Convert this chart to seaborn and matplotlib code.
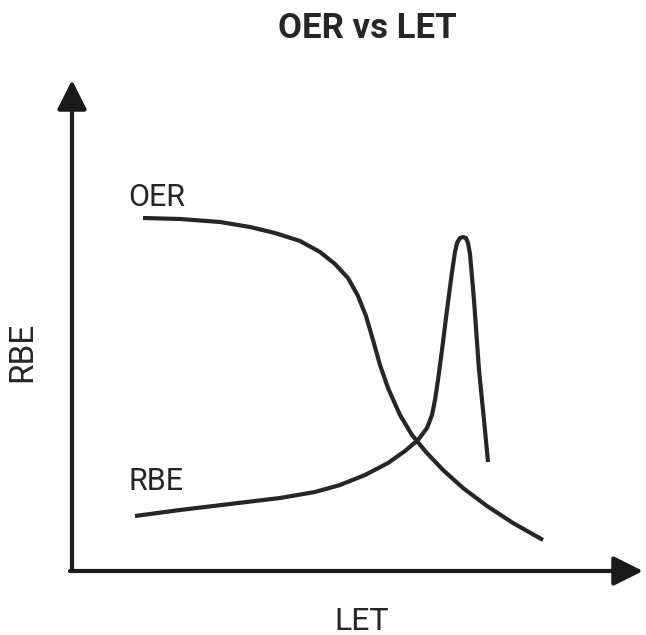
import matplotlib
matplotlib.use("Agg")
import matplotlib.pyplot as plt
import numpy as np
import pandas as pd
import seaborn as sns

# curve traces (pixel space, y grows downward)
oer_x = [143, 180, 220, 250, 275, 300, 320, 335, 348, 358, 366, 373, 380, 388,
         400, 412, 426, 443, 463, 487, 513, 543]
oer_y = [218, 219, 222, 227, 233, 241, 252, 264, 278, 296, 316, 340, 365, 388,
         415, 435, 452, 470, 488, 506, 523, 540]

rbe_x = [135, 180, 230, 280, 315, 340, 365, 388, 405, 418, 427, 432, 435, 438,
         442, 447, 452, 455, 457, 460, 463, 466, 468, 470, 474, 479, 484, 488]
rbe_y = [516, 510, 504, 498, 492, 485, 475, 463, 451, 440, 428, 415, 400, 380,
         350, 310, 272, 252, 243, 238, 237, 238, 243, 254, 300, 370, 420, 462]

title = "OER vs LET"
x_label = "LET"
y_label = "RBE"

sns.set_style("white")
plt.rcParams["font.family"] = ["Roboto", "DejaVu Sans"]

ink = "#262626"

fig = plt.figure(figsize=(6.46, 6.35), dpi=100)
ax = fig.add_axes([0, 0, 1, 1])

oer = pd.DataFrame({"x": oer_x, "y": oer_y})
rbe = pd.DataFrame({"x": rbe_x, "y": rbe_y})
sns.lineplot(data=oer, x="x", y="y", sort=False, ax=ax, color=ink, lw=3,
             solid_capstyle="butt", solid_joinstyle="round")
sns.lineplot(data=rbe, x="x", y="y", sort=False, ax=ax, color=ink, lw=3,
             solid_capstyle="butt", solid_joinstyle="round")

ax.set_xlim(0, 646)
ax.set_ylim(635, 0)
ax.axis("off")

# axis arrows
arrow = dict(arrowstyle="-|>,head_length=0.9,head_width=0.45", lw=3,
             color="#1a1a1a", shrinkA=0, shrinkB=0, mutation_scale=20)
ax.annotate("", xy=(72, 80), xytext=(72, 571), arrowprops=arrow)
ax.annotate("", xy=(643, 571), xytext=(70, 571), arrowprops=arrow)

ax.text(157, 197, "OER", fontsize=22, color=ink, ha="center", va="center")
ax.text(156, 482, "RBE", fontsize=22, color=ink, ha="center", va="center")
ax.text(367, 29, title, fontsize=25, fontweight="bold", color=ink,
        ha="center", va="center")
ax.text(362, 621, x_label, fontsize=23, color=ink, ha="center", va="center")
ax.text(22, 352, y_label, fontsize=24, color=ink, ha="center", va="center",
        rotation=90)

fig.savefig("out.png", dpi=100)
